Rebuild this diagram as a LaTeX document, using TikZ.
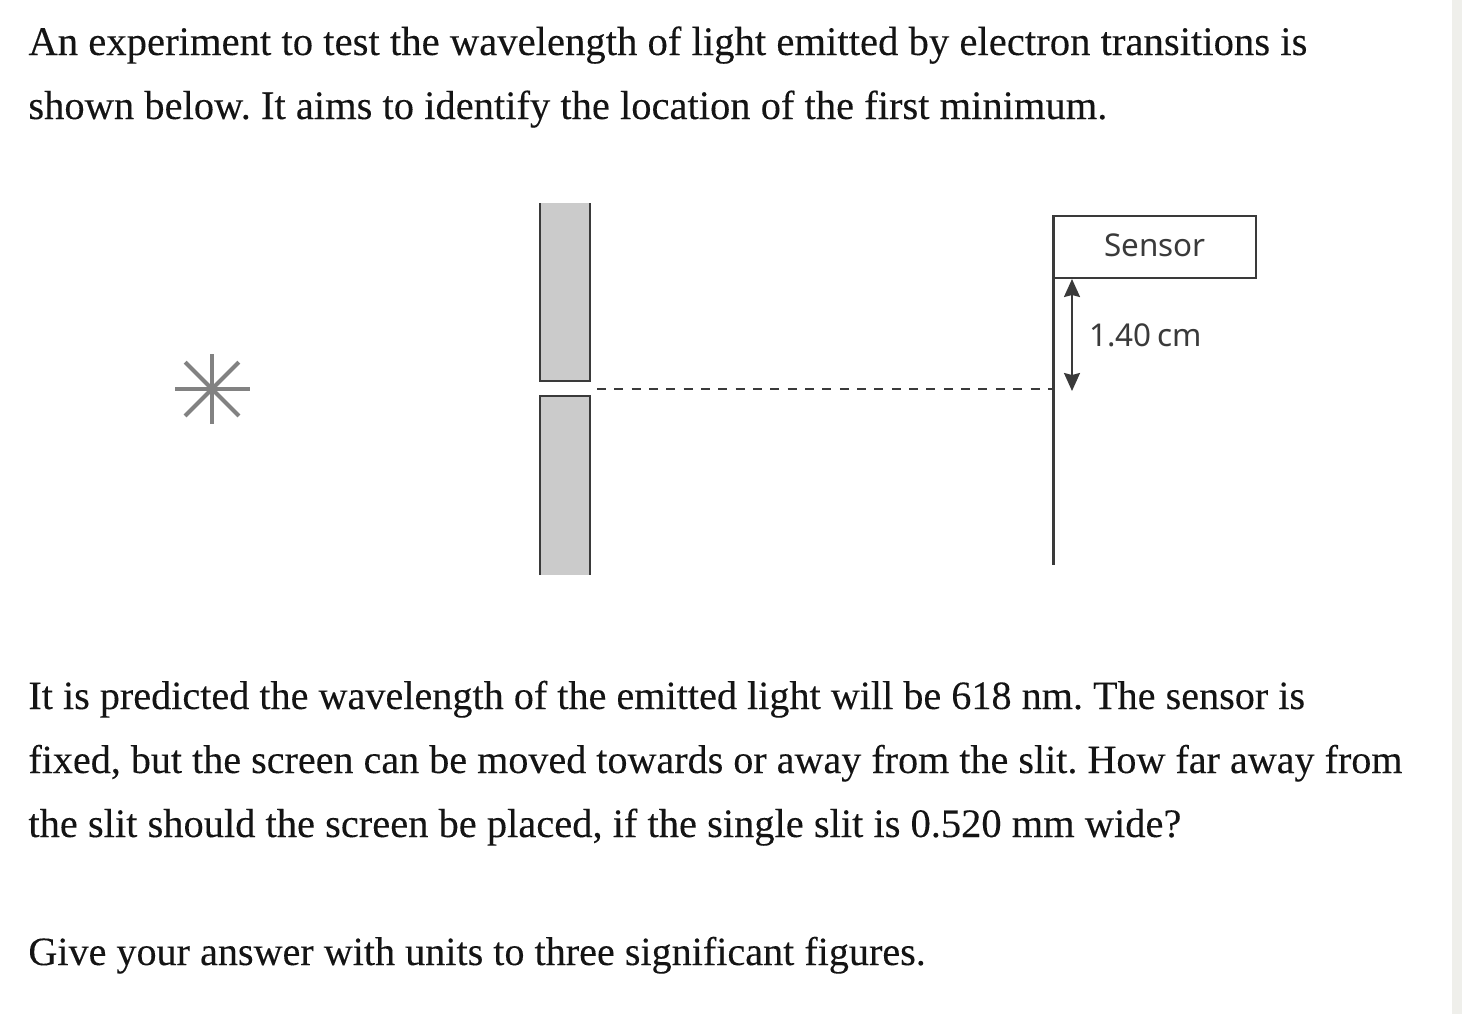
\documentclass[tikz,border=0pt]{standalone}
\usepackage{fontspec}
\setmainfont[FakeBold=0.15]{Liberation Serif}
\newfontfamily\labelfont{Noto Sans}
\usetikzlibrary{arrows.meta}
\definecolor{slitgrey}{HTML}{CBCBCB}
\definecolor{linegrey}{HTML}{3A3A3A}
\definecolor{stargrey}{HTML}{828282}
\definecolor{stripgrey}{HTML}{EFEFEB}
\frenchspacing
\tikzset{
  bodytext/.style={anchor=base west, inner sep=0pt, font=\fontsize{#1}{24}\selectfont, text=black!92},
  figlabel/.style={inner sep=0pt, font=\labelfont\fontsize{15.7}{18}\selectfont, text=linegrey},
  ray/.style={line width=2pt, color=stargrey},
  slitside/.style={line width=1.2pt, color=linegrey},
}
\begin{document}
\begin{tikzpicture}[x=0.5pt,y=-0.5pt]
            \useasboundingbox (0,0) rectangle (1462,1014);
            \fill[stripgrey] (1452,0) rectangle (1462,1014);
            \node[bodytext=20.34] (L1) at (28,55) {An experiment to test the wavelength of light emitted by electron transitions is};
            \node[bodytext=20.26] (L2) at (28,119) {shown below. It aims to identify the location of the first minimum.};
            \node[bodytext=20.09] (L3) at (28,709) {It is predicted the wavelength of the emitted light will be 618 nm. The sensor is};
            \node[bodytext=20.05] (L4) at (28,773) {fixed, but the screen can be moved towards or away from the slit. How far away from};
            \node[bodytext=20.23] (L5) at (28,837) {the slit should the screen be placed, if the single slit is 0.520 mm wide?};
            \node[bodytext=20.07] (L6) at (28,965) {Give your answer with units to three significant figures.};
            \foreach \a/\r in {0/37.5,45/38,90/35,135/38,180/37.5,225/38,270/35,315/38}
                {\draw[ray] (212,389) -- ++(\a:\r);}
            \fill[slitgrey] (540,203) rectangle (590,381);
            \fill[slitgrey] (540,396) rectangle (590,575);
            \draw[slitside] (540,203) -- (540,381) -- (590,381) -- (590,203);
            \draw[slitside] (540,575) -- (540,396) -- (590,396) -- (590,575);
            \coordinate (S) at (1053.5,215);
            \coordinate (T) at (1053.5,565);
            \node[draw=linegrey, line width=1pt, minimum width=101pt, minimum height=31pt, inner sep=0pt, anchor=north west] (sensor) at (1053,215) {};
            \node[figlabel] (sensorlabel) at (1155,245) {Sensor};
            \node[figlabel] (dist) at (1145.5,335) {1.40\,cm};
            \coordinate (P) at (597,389);
            \coordinate (Q) at (1053,389);
            \coordinate (U) at (1072,279);
            \coordinate (V) at (1072,391);
            \draw[line width=1.4pt, color=linegrey] (S) -- (T);
            \draw[line width=1.2pt, color=linegrey, dash pattern=on 4.5pt off 4.17pt] (P) -- (Q);
            \draw[{Stealth[length=9pt,width=8pt,inset=1pt]}-{Stealth[length=9pt,width=8pt,inset=1pt]}, line width=1pt, color=linegrey] (U) -- (V);
        \end{tikzpicture}
\end{document}
